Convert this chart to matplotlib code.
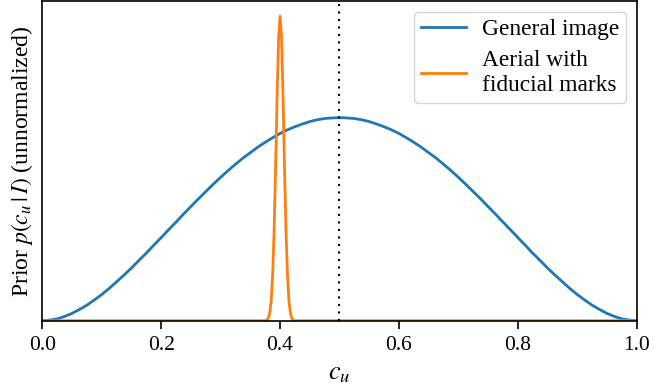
import matplotlib
matplotlib.use("Agg")
import matplotlib.pyplot as plt

plt.rcParams["font.family"] = ["Liberation Serif", "DejaVu Serif"]
plt.rcParams["mathtext.fontset"] = "stix"

# Prior for a general image (broad, symmetric about 0.5)
general_x = [0.0, 0.0125, 0.025, 0.0375, 0.05, 0.0625, 0.075, 0.0875, 0.1, 0.1125,
             0.125, 0.1375, 0.15, 0.1625, 0.175, 0.1875, 0.2, 0.2125, 0.225, 0.2375,
             0.25, 0.2625, 0.275, 0.2875, 0.3, 0.3125, 0.325, 0.3375, 0.35, 0.3625,
             0.375, 0.3875, 0.4, 0.4125, 0.425, 0.4375, 0.45, 0.4625, 0.475, 0.4875,
             0.5, 0.5125, 0.525, 0.5375, 0.55, 0.5625, 0.575, 0.5875, 0.6, 0.6125,
             0.625, 0.6375, 0.65, 0.6625, 0.675, 0.6875, 0.7, 0.7125, 0.725, 0.7375,
             0.75, 0.7625, 0.775, 0.7875, 0.8, 0.8125, 0.825, 0.8375, 0.85, 0.8625,
             0.875, 0.8875, 0.9, 0.9125, 0.925, 0.9375, 0.95, 0.9625, 0.975, 0.9875,
             1.0]
general_y = [0.0, 0.002, 0.006, 0.014, 0.024, 0.037, 0.051, 0.068, 0.086, 0.106,
             0.128, 0.150, 0.173, 0.198, 0.222, 0.248, 0.273, 0.299, 0.324, 0.350,
             0.375, 0.400, 0.424, 0.448, 0.471, 0.493, 0.514, 0.534, 0.552, 0.570,
             0.586, 0.601, 0.615, 0.627, 0.637, 0.646, 0.654, 0.660, 0.664, 0.666,
             0.667, 0.666, 0.664, 0.660, 0.654, 0.646, 0.637, 0.627, 0.615, 0.601,
             0.586, 0.570, 0.552, 0.534, 0.514, 0.493, 0.471, 0.448, 0.424, 0.400,
             0.375, 0.350, 0.324, 0.299, 0.273, 0.248, 0.222, 0.198, 0.173, 0.150,
             0.128, 0.106, 0.086, 0.068, 0.051, 0.037, 0.024, 0.014, 0.006, 0.002,
             0.0]

# Prior for an aerial photo with fiducial marks (sharp peak near 0.4)
aerial_x = [0.0, 0.375, 0.3775, 0.38, 0.3825, 0.385, 0.3875, 0.39, 0.3925, 0.395,
            0.3975, 0.4, 0.4025, 0.405, 0.4075, 0.41, 0.4125, 0.415, 0.4175,
            0.42, 0.4225, 0.425, 1.0]
aerial_y = [0.0, 0.0, 0.002, 0.0076, 0.024, 0.064, 0.148, 0.295, 0.503, 0.737,
            0.927, 1.0, 0.927, 0.737, 0.503, 0.295, 0.148, 0.064, 0.024,
            0.0076, 0.002, 0.0, 0.0]

center = 0.5
xticks = [0.0, 0.2, 0.4, 0.6, 0.8, 1.0]

fig = plt.figure(figsize=(6.53, 3.91), dpi=100)
ax = fig.add_axes([0.0648, 0.1798, 0.9102, 0.8176])

ax.plot(general_x, general_y, color="#1f77b4", lw=2.0, label="General image")
ax.plot(aerial_x, aerial_y, color="#ff7f0e", lw=2.0, label="Aerial with\nfiducial marks")
ax.axvline(center, color="black", lw=1.5, dashes=(1, 2.6))

ax.set_xlim(0, 1)
ax.set_ylim(0, max(aerial_y) * 1.05)
ax.set_xticks(xticks)
ax.set_xticklabels([f"{t:.1f}" for t in xticks])
ax.set_yticks([])
ax.tick_params(axis="x", labelsize=15.5, length=6, width=1.2, pad=5, direction="out")
for s in ax.spines.values():
    s.set_linewidth(1.2)

ax.set_xlabel(r"$c_u$", fontsize=19, labelpad=6)
ax.set_ylabel(r"Prior $p(c_u\,|\,I)$ (unnormalized)", fontsize=17, labelpad=5)

ax.legend(loc="upper right", fontsize=16.8, handlelength=1.9, framealpha=0.8,
          borderpad=0.3, labelspacing=0.45, handletextpad=0.7,
          borderaxespad=0.45)

fig.savefig("out.png", dpi=100)
